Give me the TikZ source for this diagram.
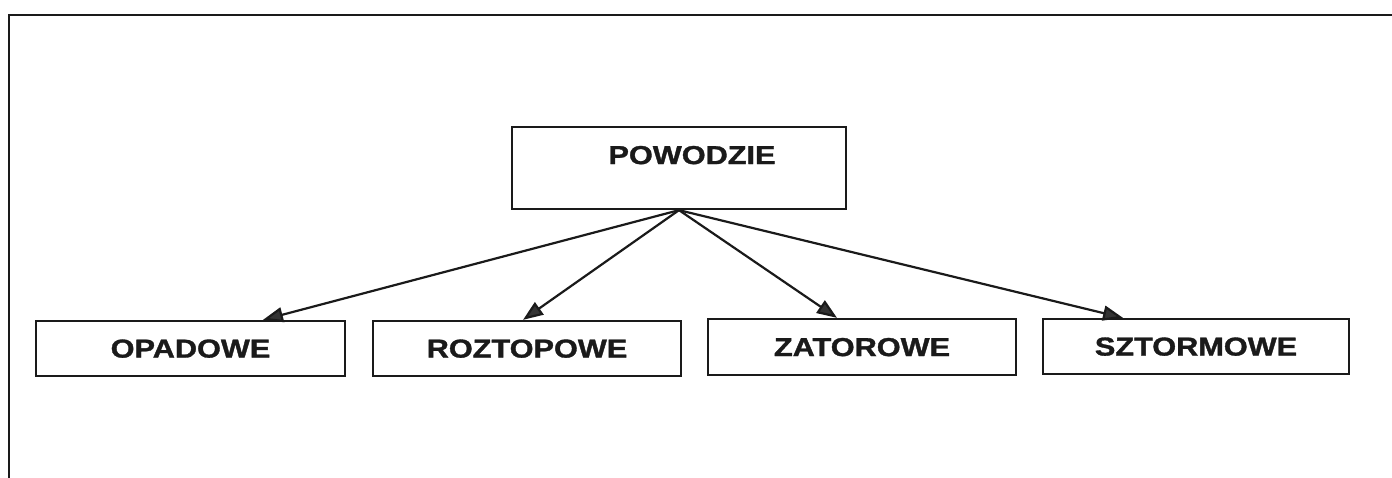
\documentclass[tikz,border=0pt]{standalone}
\usepackage{fontspec}
\setmainfont{Liberation Sans}[BoldFeatures={FakeBold=1.2}]
\usetikzlibrary{arrows.meta}
\definecolor{ink}{HTML}{1A1A1A}
\definecolor{tipgray}{HTML}{333333}
\newcommand{\wide}[1]{\scalebox{1.18}[1]{#1}}
\begin{document}
\begin{tikzpicture}[x=1pt,y=-1pt,
  box/.style={draw=ink, line width=2.3pt, inner sep=0pt, text depth=0pt},
  label/.style={font=\fontsize{26}{28}\selectfont\bfseries, text=ink, inner sep=0pt, text depth=0pt},
  link/.style={draw=ink, line width=2.2pt,
    -{Triangle[length=20pt,width=15pt,fill=tipgray]}}]
  \useasboundingbox (0,0) rectangle (1392,478);
  % page frame (top and left edges)
  \coordinate (fbl) at (9,478);
  \coordinate (ftl) at (9,15);
  \coordinate (ftr) at (1392,15);
  \draw[ink, line width=2.6pt] (fbl) -- (ftl) -- (ftr);
  % root box
  \node[box, minimum width=334pt, minimum height=82pt] (root) at (679,168) {};
  \node[label] (rootlabel) at (692,155) {\wide{POWODZIE}};
  % category boxes
  \node[box, label, minimum width=309pt, minimum height=55pt] (opad) at (190.5,348.5) {\wide{OPADOWE}};
  \node[box, label, minimum width=308pt, minimum height=55pt] (rozt) at (527,348.5) {\wide{ROZTOPOWE}};
  \node[box, label, minimum width=308pt, minimum height=56pt] (zato) at (862,347) {\wide{ZATOROWE}};
  \node[box, label, minimum width=306pt, minimum height=55pt] (szto) at (1196,346.5) {\wide{SZTORMOWE}};
  % connectors
  \draw[link] (root.south) -- ([xshift=72.5pt]opad.north);
  \draw[link] (root.south) -- ([xshift=-4pt]rozt.north);
  \draw[link] (root.south) -- ([xshift=-25pt]zato.north);
  \draw[link] (root.south) -- ([xshift=-73pt]szto.north);
\end{tikzpicture}
\end{document}
